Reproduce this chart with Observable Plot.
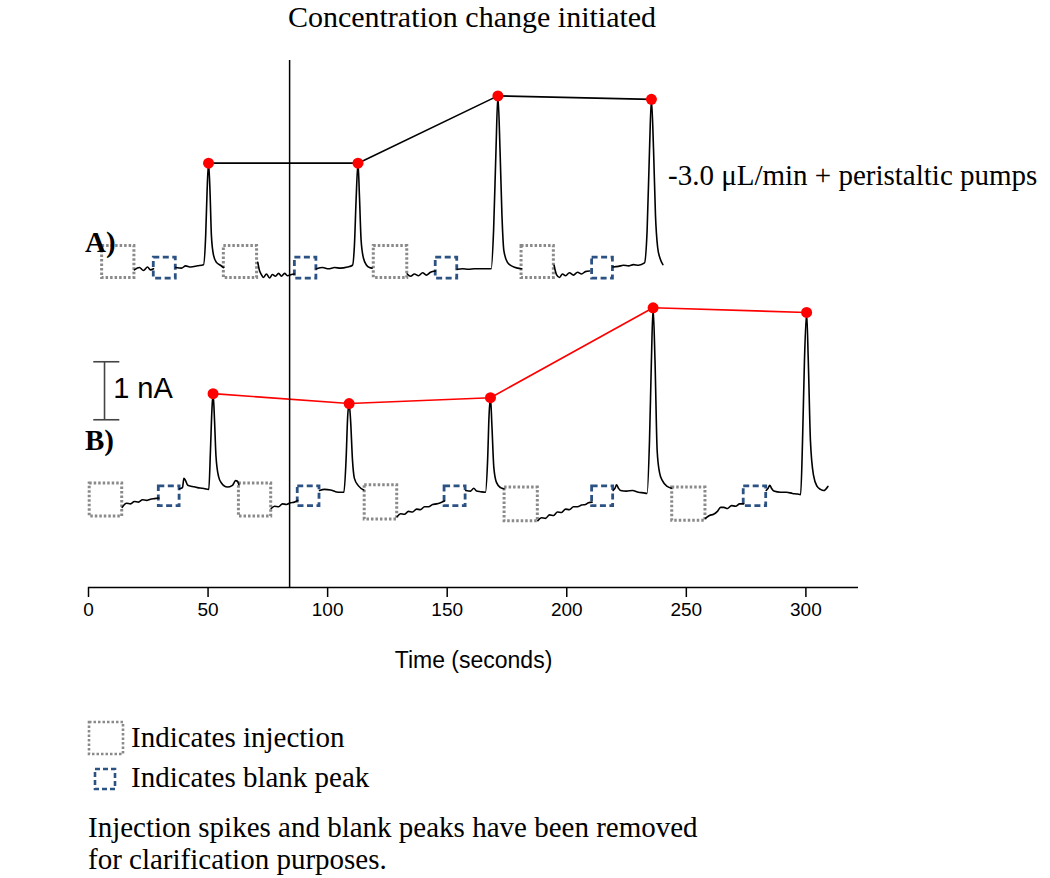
<!DOCTYPE html>
<html><head><meta charset="utf-8">
<script src="https://cdn.jsdelivr.net/npm/d3@7"></script>
<script src="https://cdn.jsdelivr.net/npm/@observablehq/plot@0.6"></script>
<style>
body{margin:0;background:#fff;}
#wrap{position:relative;width:1050px;height:878px;overflow:hidden;background:#fff;}
#wrap svg.plot{position:absolute;left:0;top:0;}
.t{position:absolute;line-height:1.1;white-space:nowrap;transform:translateY(-50%);font-family:"Liberation Serif","Times New Roman",serif;font-size:29px;color:#000;}
.sw{position:absolute;}
</style></head><body><div id="wrap"></div>
<script>
// ---- Trace A (nA, relative to its own baseline); null = gap (removed spikes/blank peaks)
const aTime = [19.2,21.3,23.0,24.7,25.9,27.2,null,
  36.5,38.9,40.6,42.7,45.6,48.1,49.0,49.6,50.2,50.8,51.4,52.3,53.5,55.2,56.5,null,
  70.8,71.5,72.3,73.2,74.4,75.7,76.9,78.2,79.5,80.7,82.0,83.2,84.9,86.1,null,
  95.3,97.9,100.4,102.9,105.4,108.3,110.4,111.2,111.9,112.7,113.3,114.0,115.0,116.3,117.5,118.6,null,
  133.3,134.7,136.3,138.0,139.7,141.3,143.0,145.1,null,
  154.2,156.4,158.9,161.4,163.9,166.4,168.4,169.4,170.4,171.2,172.1,172.9,173.7,175.2,177.3,179.4,181.1,null,
  194.7,195.7,197.0,198.2,199.5,201.1,202.8,204.5,206.2,207.8,209.5,null,
  219.3,221.6,223.7,225.8,227.9,230.0,232.5,233.6,234.6,235.4,236.3,237.1,238.0,239.0,240.2];
const aCurrent = [0.01,0.05,0.0,0.06,0.01,0.03,null,
  0.05,0.04,0.08,0.06,0.08,0.10,0.60,1.38,1.85,1.38,0.60,0.26,0.14,0.09,0.05,null,
  0.14,0.0,-0.07,-0.12,-0.06,-0.13,-0.07,-0.10,-0.05,-0.10,-0.05,-0.09,-0.07,-0.06,null,
  0.03,0.05,0.03,0.05,0.04,0.06,0.09,0.43,1.21,1.85,1.29,0.52,0.21,0.09,0.05,0.04,null,
  -0.06,-0.10,-0.06,-0.09,-0.04,-0.08,-0.03,-0.01,null,
  0.02,0.03,0.02,0.03,0.03,0.03,0.03,0.69,2.07,3.01,2.07,0.95,0.34,0.14,0.07,0.04,0.03,null,
  0.09,-0.07,-0.12,-0.06,-0.09,-0.04,-0.08,-0.03,-0.06,-0.02,-0.01,null,
  0.06,0.07,0.09,0.08,0.10,0.09,0.13,0.69,2.07,2.95,2.07,0.95,0.40,0.21,0.10];
const aPeakTime = [50.2,112.7,171.2,235.4];
const aPeakCurrent = [1.85,1.85,3.01,2.95];
const aInjStart = [5.7,56.6,119.3,181.1];
const aInjEnd = [19.2,70.5,133.3,194.6];
const aBlankStart = [27.3,86.3,145.2,210.6];
const aBlankEnd = [36.5,95.3,154.2,219.3];

// ---- Trace B (nA)
const bTime = [14.1,15.9,17.6,19.2,20.9,22.6,24.3,25.9,27.6,29.4,null,
  38.1,39.3,39.9,40.6,41.5,43.5,45.6,47.7,50.3,51.0,51.6,52.1,52.7,53.3,54.4,55.6,58.0,60.2,61.5,62.3,62.9,null,
  76.4,77.8,79.5,81.1,82.8,84.5,86.1,87.5,null,
  96.6,98.7,101.2,103.3,105.4,106.8,107.7,108.4,109.0,109.6,110.4,111.2,112.9,115.1,null,
  129.1,130.5,132.1,133.8,135.5,137.2,138.8,140.5,142.2,143.9,145.5,147.2,148.9,null,
  157.7,159.8,161.1,162.3,163.9,166.0,166.9,167.5,168.1,168.7,169.5,170.6,172.3,173.7,null,
  187.9,189.4,191.1,192.8,194.5,196.1,197.8,199.5,201.1,202.8,204.5,206.2,207.8,209.1,210.6,null,
  219.4,220.2,220.8,221.6,222.5,225.0,227.5,230.0,232.1,233.6,234.6,235.4,236.1,236.9,237.8,238.8,240.0,242.0,243.8,null,
  258.0,259.7,261.4,263.0,264.3,265.7,267.2,268.9,270.6,272.3,274.0,null,
  283.4,284.2,284.9,285.6,286.6,289.4,291.9,294.4,296.5,297.8,298.6,299.4,300.3,301.0,301.9,303.2,304.7,306.1,307.5,309.2];
const bCurrent = [-0.17,-0.10,-0.11,-0.07,-0.08,-0.04,-0.05,-0.03,-0.02,-0.01,null,
  0.15,0.17,0.33,0.29,0.21,0.19,0.17,0.16,0.14,0.81,1.50,1.79,1.33,0.72,0.36,0.25,0.18,0.21,0.29,0.28,0.22,null,
  -0.19,-0.15,-0.16,-0.11,-0.12,-0.09,-0.08,-0.05,null,
  0.12,0.14,0.13,0.10,0.09,0.09,0.64,1.41,1.62,1.33,0.64,0.33,0.20,0.13,null,
  -0.33,-0.28,-0.29,-0.24,-0.25,-0.20,-0.21,-0.16,-0.16,-0.12,-0.11,-0.09,-0.06,null,
  0.12,0.11,0.16,0.11,0.10,0.09,0.64,1.41,1.72,1.24,0.52,0.26,0.17,0.15,null,
  -0.40,-0.35,-0.36,-0.30,-0.31,-0.25,-0.26,-0.20,-0.21,-0.16,-0.16,-0.13,-0.12,-0.09,-0.08,null,
  0.12,0.16,0.22,0.16,0.12,0.11,0.12,0.09,0.08,0.07,0.98,2.36,3.27,2.36,0.81,0.43,0.29,0.19,0.16,null,
  -0.36,-0.31,-0.29,-0.24,-0.17,-0.17,-0.19,-0.14,-0.15,-0.11,-0.11,null,
  0.12,0.16,0.21,0.16,0.11,0.09,0.09,0.07,0.06,0.05,0.98,2.36,3.19,2.36,0.98,0.38,0.19,0.14,0.12,0.19];
const bPeakTime = [52.1,109.0,168.1,236.1,300.3];
const bPeakCurrent = [1.79,1.62,1.72,3.27,3.19];
const bInjStart = [0.5,62.9,115.5,174.0,244.1];
const bInjEnd = [14.1,76.4,129.1,187.9,258.0];
const bInjLow = [-0.33,-0.33,-0.38,-0.41,-0.40];
const bInjHigh = [0.24,0.24,0.21,0.17,0.17];
const bBlankStart = [29.4,87.5,148.9,210.6,274.0];
const bBlankEnd = [38.1,96.6,157.7,219.4,283.4];

const timeTicks = [0,50,100,150,200,250,300];
const changeTime = 84.1;          // concentration change initiated
const scaleBarTime = 6.7;         // 1 nA scale bar
const scaleBarFrom = 1.34, scaleBarTo = 2.34;

// display offset of trace A above trace B (nA)
const A_OFFSET = 3.914;
const Y_MIN = -1.552, Y_MAX = 7.534;

const sh = (arr) => arr.map(v => v == null ? null : v + A_OFFSET);
const idx = (arr) => d3.range(arr.length);

const INJ = {fill: "none", stroke: "#8a8a8a", strokeWidth: 3, strokeDasharray: "2.5,2"};
const BLK = {fill: "none", stroke: "#2c5284", strokeWidth: 2.8, strokeDasharray: "6,3.5"};

const chart = Plot.plot({
  width: 1050, height: 700,
  marginTop: 60, marginBottom: 113, marginLeft: 88, marginRight: 192,
  x: {domain: [0, 322]},
  y: {domain: [Y_MIN, Y_MAX], axis: null},
  style: {fontFamily: "'Liberation Sans', Arial, sans-serif", fontSize: "19px", color: "#000", background: "#fff"},
  marks: [
    // injection boxes & blank peak boxes
    Plot.rect(idx(aInjStart), {x1: aInjStart, x2: aInjEnd, y1: -0.13 + A_OFFSET, y2: 0.42 + A_OFFSET, ...INJ}),
    Plot.rect(idx(aBlankStart), {x1: aBlankStart, x2: aBlankEnd, y1: -0.14 + A_OFFSET, y2: 0.22 + A_OFFSET, ...BLK}),
    Plot.rect(idx(bInjStart), {x1: bInjStart, x2: bInjEnd, y1: bInjLow, y2: bInjHigh, ...INJ}),
    Plot.rect(idx(bBlankStart), {x1: bBlankStart, x2: bBlankEnd, y1: -0.15, y2: 0.19, ...BLK}),
    // traces
    Plot.line(idx(aTime), {x: aTime, y: sh(aCurrent), stroke: "#000", strokeWidth: 1.6, curve: "monotone-x"}),
    Plot.line(idx(bTime), {x: bTime, y: bCurrent, stroke: "#000", strokeWidth: 1.6, curve: "monotone-x"}),
    // peak connections
    Plot.line(idx(aPeakTime), {x: aPeakTime, y: sh(aPeakCurrent), stroke: "#000", strokeWidth: 1.6}),
    Plot.line(idx(bPeakTime), {x: bPeakTime, y: bPeakCurrent, stroke: "#ff0000", strokeWidth: 1.6}),
    Plot.dot(idx(aPeakTime), {x: aPeakTime, y: sh(aPeakCurrent), r: 5.5, fill: "#ff0000", stroke: "none"}),
    Plot.dot(idx(bPeakTime), {x: bPeakTime, y: bPeakCurrent, r: 5.5, fill: "#ff0000", stroke: "none"}),
    // concentration change line
    Plot.ruleX([changeTime], {stroke: "#000", strokeWidth: 1.5}),
    // scale bar
    Plot.ruleX([scaleBarTime], {y1: scaleBarFrom, y2: scaleBarTo, stroke: "#444", strokeWidth: 1.6}),
    Plot.ruleY([scaleBarFrom, scaleBarTo], {x1: 2.2, x2: 13.1, stroke: "#444", strokeWidth: 1.6}),
    Plot.text(["1 nA"], {x: 10.3, y: 1.88, text: d => d, textAnchor: "start", fontSize: 29, fill: "#000"}),
    // x axis
    Plot.ruleY([Y_MIN], {stroke: "#000", strokeWidth: 1.5}),
    Plot.axisX({ticks: timeTicks, tickSize: 10, tickPadding: 5, label: null, stroke: "#000", strokeWidth: 1.5, fontSize: 19, tickFormat: d => String(d)}),
    Plot.text(["Time (seconds)"], {frameAnchor: "bottom", dy: 73, text: d => d, fontSize: 23, lineAnchor: "middle", fill: "#000"})
  ]
});
chart.classList.add("plot");
const wrap = document.getElementById("wrap");
wrap.appendChild(chart);

function addText(txt, left, cy, extra) {
  const d = document.createElement("div");
  d.className = "t";
  d.textContent = txt;
  d.style.left = left + "px";
  d.style.top = cy + "px";
  if (extra) Object.assign(d.style, extra);
  wrap.appendChild(d);
  return d;
}
addText("Concentration change initiated", 472, 17, {transform: "translate(-50%,-50%)", fontSize: "30px", lineHeight: "1"});
addText("A)", 85, 243, {fontWeight: "bold"});
addText("B)", 85, 441, {fontWeight: "bold"});
addText("-3.0 \u03bcL/min + peristaltic pumps", 668, 176);

function swatch(left, top, w, h, stroke, dash, sw) {
  const ns = "http://www.w3.org/2000/svg";
  const s = document.createElementNS(ns, "svg");
  s.setAttribute("width", w + 4); s.setAttribute("height", h + 4);
  s.setAttribute("class", "sw");
  s.style.left = (left - 2) + "px"; s.style.top = (top - 2) + "px";
  const r = document.createElementNS(ns, "rect");
  r.setAttribute("x", 2); r.setAttribute("y", 2); r.setAttribute("width", w); r.setAttribute("height", h);
  r.setAttribute("fill", "none"); r.setAttribute("stroke", stroke);
  r.setAttribute("stroke-width", sw); r.setAttribute("stroke-dasharray", dash);
  s.appendChild(r);
  wrap.appendChild(s);
}
swatch(89, 722, 34, 32, "#8a8a8a", "2.5,2", 2.6);
swatch(95, 769, 20, 20, "#2c5284", "5,3", 2.6);
addText("Indicates injection", 131, 738);
addText("Indicates blank peak", 131, 778);
addText("Injection spikes and blank peaks have been removed", 88, 828);
addText("for clarification purposes.", 88, 860);
</script></body></html>
